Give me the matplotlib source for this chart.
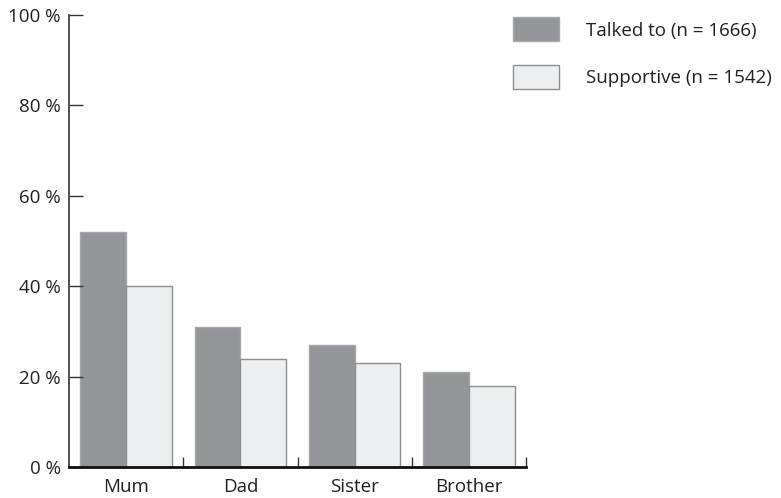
import matplotlib.pyplot as plt
import numpy as np
from matplotlib.patches import Patch

# data
categories = ["Mum", "Dad", "Sister", "Brother"]
talked = [52, 31, 27, 21]
supportive = [40, 24, 23, 18]
labels = ["Talked to (n = 1666)", "Supportive (n = 1542)"]

plt.rcParams['font.family'] = ['Open Sans', 'DejaVu Sans']
fs = 13.5

dark = '#939598'
light = '#edeef0'

fig = plt.figure(figsize=(7.81, 4.98), dpi=100)
W, H = 781, 498
ax = fig.add_axes([69 / W, (H - 467) / H, (526 - 69) / W, (467 - 15) / H])

x = np.arange(len(categories))
w = 0.4
ax.bar(x - w / 2, talked, w, color=dark, edgecolor='#a7a8aa', linewidth=1)
ax.bar(x + w / 2, supportive, w, color=light, edgecolor='#8e8e8e', linewidth=1)

ax.set_xlim(-0.5, 3.5)
ax.set_ylim(0, 100)

ax.spines['top'].set_visible(False)
ax.spines['right'].set_visible(False)
ax.spines['left'].set_color('#333333')
ax.spines['left'].set_linewidth(1.2)
ax.spines['bottom'].set_color('#111111')
ax.spines['bottom'].set_linewidth(2)

ax.set_yticks([0, 20, 40, 60, 80, 100])
ax.set_yticklabels([f"{v} %" for v in [0, 20, 40, 60, 80, 100]])
ax.tick_params(axis='y', direction='in', length=10, width=1, color='#333333',
               labelsize=fs, labelcolor='#231f20', pad=6)

ax.set_xticks(x)
ax.set_xticklabels(categories)
ax.tick_params(axis='x', which='major', length=0, labelsize=fs, labelcolor='#231f20', pad=8)
ax.set_xticks([0.5, 1.5, 2.5, 3.5], minor=True)
ax.tick_params(axis='x', which='minor', direction='in', length=7, width=1, color='#333333')

handles = [Patch(facecolor=dark, edgecolor='#a7a8aa'),
           Patch(facecolor=light, edgecolor='#8e8e8e')]
leg = fig.legend(handles, labels, loc='upper left', bbox_to_anchor=(505 / W, 1 - 10 / H),
                 frameon=False, fontsize=fs, handlelength=2.5, handleheight=1.59,
                 handletextpad=1.44, labelspacing=1.26, borderaxespad=0)
for t in leg.get_texts():
    t.set_color('#231f20')

fig.savefig("out.png", dpi=100)
